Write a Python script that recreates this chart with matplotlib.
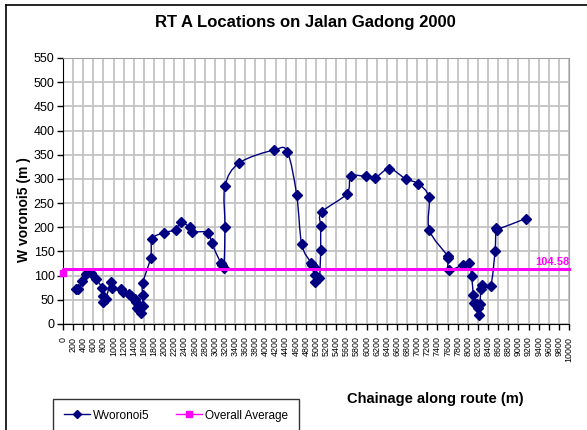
import numpy as np
import matplotlib
matplotlib.use("Agg")
import matplotlib.pyplot as plt
from matplotlib.path import Path
from matplotlib.patches import PathPatch
from matplotlib.lines import Line2D

# chainage (m) and Wvoronoi5 (m)
chainage = [257, 302, 375, 448, 547, 652, 770, 785, 795, 843, 942, 975,
            1140, 1192, 1304, 1337, 1423, 1436, 1469, 1508, 1535,
            1575, 1575, 1575, 1732, 1765, 2002, 2233, 2326, 2510, 2555,
            2871, 2938, 3116, 3148, 3181, 3201, 3201, 3484, 4176, 4433,
            4618, 4717, 4901, 4927, 4966, 4980, 4980, 5065, 5092, 5092,
            5112, 5606, 5691, 5982, 6165, 6448, 6772, 7021, 7232, 7238,
            7601, 7614, 7628, 7898, 8023, 8076, 8108, 8128, 8175, 8207,
            8221, 8240, 8260, 8286, 8451, 8537, 8556, 8569, 9143]
wvoronoi = [72, 72, 88, 104, 105, 93, 75, 57, 45, 51, 86, 74,
            72, 67, 62, 57, 52, 45, 33, 28, 22,
            37, 60, 84, 137, 176, 189, 195, 210, 200, 191,
            189, 167, 127, 122, 115, 200, 285, 333, 360, 356,
            267, 165, 127, 122, 117, 102, 86, 95, 153, 202,
            231, 269, 305, 305, 302, 321, 300, 290, 262, 195,
            141, 136, 112, 122, 127, 99, 59, 44, 41, 33,
            19, 41, 73, 81, 79, 150, 198, 195, 218]

avg_value = 104.58
avg_x = [0, 0, 10000]
avg_y = [104.58, 113, 113]

xticks = list(range(0, 10001, 200))
yticks = list(range(0, 551, 50))

NAVY = "#000080"
MAGENTA = "#FF00FF"

plt.rcParams["font.family"] = ["Liberation Sans", "DejaVu Sans"]


def smooth_path(x, y):
    # excel style smoothed line, drawn as cubic bezier segments
    pts = np.column_stack([x, y]).astype(float)
    n = len(pts)
    verts = [pts[0]]
    codes = [Path.MOVETO]
    for i in range(n - 1):
        p0 = pts[max(i - 1, 0)]
        p1 = pts[i]
        p2 = pts[i + 1]
        p3 = pts[min(i + 2, n - 1)]
        c1 = p1 + (p2 - p0) / 6.0
        c2 = p2 - (p3 - p1) / 6.0
        verts += [c1, c2, p2]
        codes += [Path.CURVE4] * 3
    return Path(verts, codes)


fig = plt.figure(figsize=(5.87, 4.30), dpi=100)
ax = fig.add_axes([63 / 587, 1 - 324 / 430, 506 / 587, 266 / 430])

# outer chart frame (top and left edges visible)
fig.add_artist(Line2D([6 / 587, 6 / 587], [0, 1 - 5 / 430], color="black", lw=1.2))
fig.add_artist(Line2D([6 / 587, 1], [1 - 5 / 430, 1 - 5 / 430], color="black", lw=1.2))

ax.set_xlim(0, 10000)
ax.set_ylim(0, 550)
ax.set_xticks(xticks)
ax.set_xticklabels([str(t) for t in xticks], rotation=90, fontsize=6.4)
ax.set_yticks(yticks)
ax.set_yticklabels([str(t) for t in yticks], fontsize=9)
ax.grid(True, color="#c4c4c4", lw=1.3)
ax.set_axisbelow(True)
ax.tick_params(axis="both", direction="out", length=4, width=1, color="black", pad=2)
ax.tick_params(axis="x", pad=5)

for s in ["top", "right"]:
    ax.spines[s].set_color("#a0a0a0")
for s in ["left", "bottom"]:
    ax.spines[s].set_color("black")

ax.add_patch(PathPatch(smooth_path(chainage, wvoronoi), fc="none", ec=NAVY, lw=1.0, zorder=3))
ax.plot(chainage, wvoronoi, ls="none", marker="D", ms=5, color=NAVY, zorder=4)

ax.plot(avg_x, avg_y, color=MAGENTA, lw=2.2, marker="s", ms=5, markevery=[0], zorder=5,
        clip_on=False)
ax.text(10000, 118, f"{avg_value:.2f}", color=MAGENTA, fontsize=8, fontweight="bold",
        ha="right", va="bottom")

fig.text(305 / 587, 1 - 23 / 430, "RT A Locations on Jalan Gadong 2000", ha="center",
         va="center", fontsize=12, fontweight="bold")
fig.text(435 / 587, 1 - 399 / 430, "Chainage along route (m)", ha="center", va="center",
         fontsize=10.5, fontweight="bold")
fig.text(24 / 587, 1 - 210 / 430, "W voronoi5 (m )", ha="center", va="center",
         rotation=90, fontsize=10, fontweight="bold")

h1 = Line2D([], [], color=NAVY, lw=1, marker="D", ms=4)
h2 = Line2D([], [], color=MAGENTA, lw=1, marker="s", ms=4)
leg = fig.legend([h1, h2], ["Wvoronoi5", "Overall Average"], ncol=2, loc="upper left",
                 bbox_to_anchor=(53 / 587, 1 - 399 / 430), fontsize=8.5, frameon=True,
                 fancybox=False, edgecolor="black", borderpad=0.9, handlelength=2.2,
                 handletextpad=0.3, columnspacing=2.2, borderaxespad=0)
leg.get_frame().set_linewidth(1.0)

fig.savefig("out.png", dpi=100)
